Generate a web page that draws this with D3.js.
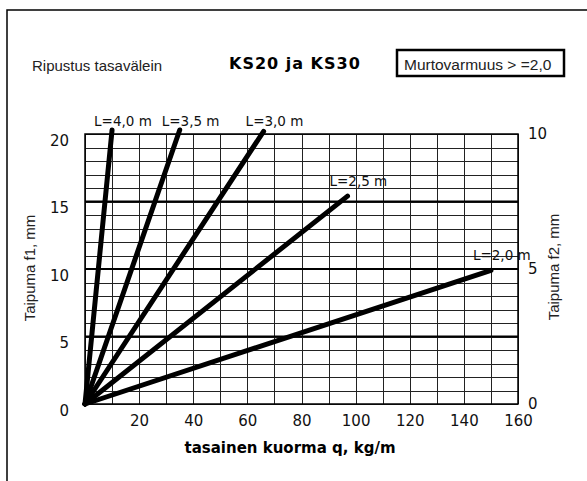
<!DOCTYPE html>
<html>
<head>
<meta charset="utf-8">
<script src="https://cdn.jsdelivr.net/npm/d3@7"></script>
<style>
body { margin:0; background:#fff; }
.grid line { stroke:#222; stroke-width:1; shape-rendering:crispEdges; }
.grid path { stroke-width:0; }
.tick text { font-family:"DejaVu Sans"; font-size:15px; fill:#111; }
</style>
</head>
<body>
<svg id="chart" width="587" height="481"></svg>
<script>
// ---- chart data ----
var spanLabels = ["L=4,0 m", "L=3,5 m", "L=3,0 m", "L=2,5 m", "L=2,0 m"]
var loadEnd = [10, 35, 66, 97, 150]          // q, kg/m at end of line
var deflEnd = [20.3, 20.3, 20.2, 15.4, 9.9]  // f1, mm at end of line
var xTicks = [20, 40, 60, 80, 100, 120, 140, 160]
var yTicks = [0, 5, 10, 15, 20]
var y2Ticks = [0, 5, 10]

var svg = d3.select("#chart")

// outer frame
svg.append("rect")
  .attr("x", 7).attr("y", 10).attr("width", 620).attr("height", 520)
  .attr("fill", "none").attr("stroke", "#000").attr("stroke-width", 1.5)

var plotLeft = 85, plotRight = 518, plotTop = 134, plotBottom = 404
var width = plotRight - plotLeft, height = plotBottom - plotTop

var xScale = d3.scaleLinear().domain([0, 160]).range([0, width])
var yScale = d3.scaleLinear().domain([0, 20]).range([height, 0])
var y2Scale = d3.scaleLinear().domain([0, 10]).range([height, 0])

var g = svg.append("g").attr("transform", "translate(" + plotLeft + "," + plotTop + ")")

// gridlines
g.append("g")
  .attr("class", "grid")
  .attr("transform", "translate(0," + height + ")")
  .call(d3.axisBottom(xScale).tickValues(d3.range(0, 161, 10)).tickSize(-height).tickFormat(""))

g.append("g")
  .attr("class", "grid")
  .call(d3.axisLeft(yScale).tickValues(d3.range(0, 21, 1)).tickSize(-width).tickFormat(""))

// heavier lines every 5 mm
g.append("g")
  .selectAll("line")
  .data([5, 10, 15])
  .join("line")
  .attr("x1", 0).attr("x2", width)
  .attr("y1", function(d) { return yScale(d) })
  .attr("y2", function(d) { return yScale(d) })
  .attr("stroke", "#000").attr("stroke-width", 2)

g.append("rect")
  .attr("width", width).attr("height", height)
  .attr("fill", "none").attr("stroke", "#000").attr("stroke-width", 1.5)

// axes (labels only)
var xAxis = g.append("g")
  .attr("transform", "translate(0," + height + ")")
  .call(d3.axisBottom(xScale).tickValues(xTicks).tickSize(0).tickPadding(11))
xAxis.select(".domain").remove()

var yAxis = g.append("g")
  .call(d3.axisLeft(yScale).tickValues(yTicks).tickSize(0).tickPadding(16))
yAxis.select(".domain").remove()
yAxis.selectAll("text").attr("dy", "0.74em")

var y2Axis = g.append("g")
  .attr("transform", "translate(" + width + ",0)")
  .call(d3.axisRight(y2Scale).tickValues(y2Ticks).tickSize(0).tickPadding(10))
y2Axis.select(".domain").remove()

// deflection lines
var line = d3.line()
  .x(function(d) { return xScale(d[0]) })
  .y(function(d) { return yScale(d[1]) })

spanLabels.forEach(function(lbl, i) {
  var pts = [[0, 0], [loadEnd[i], deflEnd[i]]]
  g.append("path")
    .datum(pts)
    .attr("d", line)
    .attr("fill", "none")
    .attr("stroke", "#000")
    .attr("stroke-width", 5)
    .attr("stroke-linecap", "round")

  var ex = xScale(loadEnd[i]), ey = yScale(deflEnd[i])
  g.append("text")
    .attr("x", ex - 18)
    .attr("y", Math.max(ey - 10, yScale(20) - 8))
    .attr("font-family", "DejaVu Sans")
    .attr("font-size", "13.5px")
    .attr("fill", "#111")
    .text(lbl)
})

// axis titles
svg.append("text")
  .attr("x", 290).attr("y", 453)
  .attr("text-anchor", "middle")
  .attr("font-family", "DejaVu Sans").attr("font-weight", "bold").attr("font-size", "15px")
  .text("tasainen kuorma q, kg/m")

svg.append("text")
  .attr("transform", "translate(35,268)rotate(-90)")
  .attr("text-anchor", "middle")
  .attr("font-family", "Liberation Sans").attr("font-size", "15px").attr("fill", "#222")
  .text("Taipuma f1, mm")

svg.append("text")
  .attr("transform", "translate(559,267)rotate(-90)")
  .attr("text-anchor", "middle")
  .attr("font-family", "Liberation Sans").attr("font-size", "15px").attr("fill", "#222")
  .text("Taipuma f2, mm")

// header
svg.append("text")
  .attr("x", 32).attr("y", 71)
  .attr("font-family", "Liberation Sans").attr("font-size", "15px").attr("fill", "#222")
  .text("Ripustus tasavälein")

svg.append("text")
  .attr("x", 229).attr("y", 69)
  .attr("font-family", "DejaVu Sans").attr("font-weight", "bold").attr("font-size", "16px")
  .attr("letter-spacing", "1px")
  .text("KS20 ja KS30")

svg.append("rect")
  .attr("x", 397).attr("y", 50).attr("width", 167).attr("height", 26)
  .attr("fill", "none").attr("stroke", "#000").attr("stroke-width", 2.5)

svg.append("text")
  .attr("x", 404).attr("y", 70)
  .attr("font-family", "Liberation Sans").attr("font-size", "15.5px").attr("fill", "#222")
  .text("Murtovarmuus > =2,0")
</script>
</body>
</html>
